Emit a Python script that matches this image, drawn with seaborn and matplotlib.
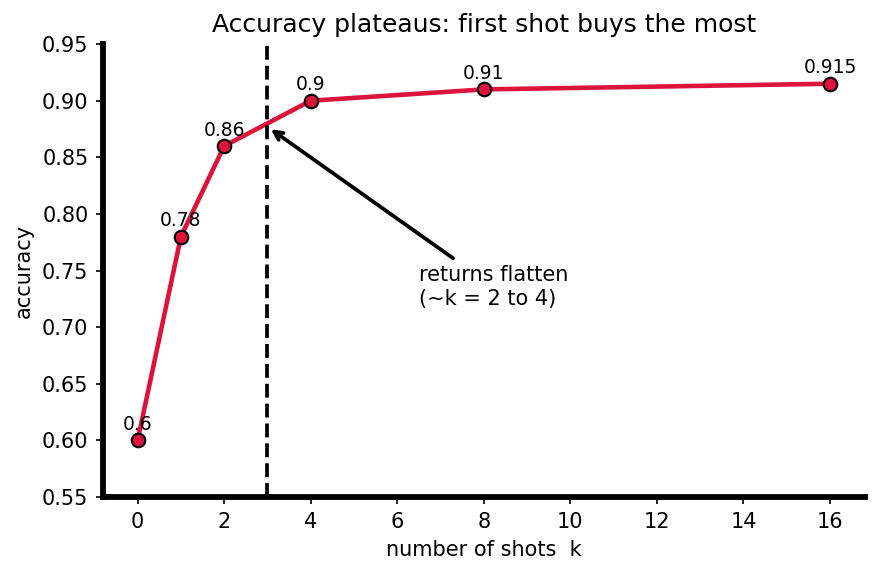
import matplotlib
matplotlib.use('Agg')
import matplotlib.pyplot as plt
import seaborn as sns
import pandas as pd

# data
shots = [0, 1, 2, 4, 8, 16]
accuracy = [0.6, 0.78, 0.86, 0.9, 0.91, 0.915]
labels = ['0.6', '0.78', '0.86', '0.9', '0.91', '0.915']
knee_k = 3

df = pd.DataFrame({'k': shots, 'acc': accuracy})

sns.set_style('ticks', {'axes.edgecolor': 'black', 'text.color': 'black',
                        'xtick.color': 'black', 'ytick.color': 'black',
                        'axes.labelcolor': 'black'})
fig, ax = plt.subplots(figsize=(5.84, 3.82), dpi=150)
plt.subplots_adjust(left=0.1176, right=0.987, top=0.923, bottom=0.1326)

sns.lineplot(data=df, x='k', y='acc', marker='o', color='crimson', linewidth=2.2,
             markersize=6.5, markeredgecolor='black', markeredgewidth=1, ax=ax)

for x, y, t in zip(shots, accuracy, labels):
    ax.annotate(t, (x, y), xytext=(0, 3), textcoords='offset points',
                ha='center', va='bottom', fontsize=9)

ax.axvline(knee_k, color='black', linestyle='--', linewidth=1.8)
ax.annotate('returns flatten\n(~k = 2 to 4)', xy=(knee_k, 0.877), xytext=(6.5, 0.72),
            fontsize=10, arrowprops=dict(arrowstyle='->', color='black', lw=1.8))

ax.set_ylim(0.55, 0.95)
ax.set_xlim(-0.8, 16.8)
ax.set_xticks(range(0, 17, 2))
ax.set_title('Accuracy plateaus: first shot buys the most', fontsize=12)
ax.set_xlabel('number of shots  k')
ax.set_ylabel('accuracy')
sns.despine()
for s in ['left', 'bottom']:
    ax.spines[s].set_linewidth(2.8)

plt.savefig('out.png', dpi=150)
